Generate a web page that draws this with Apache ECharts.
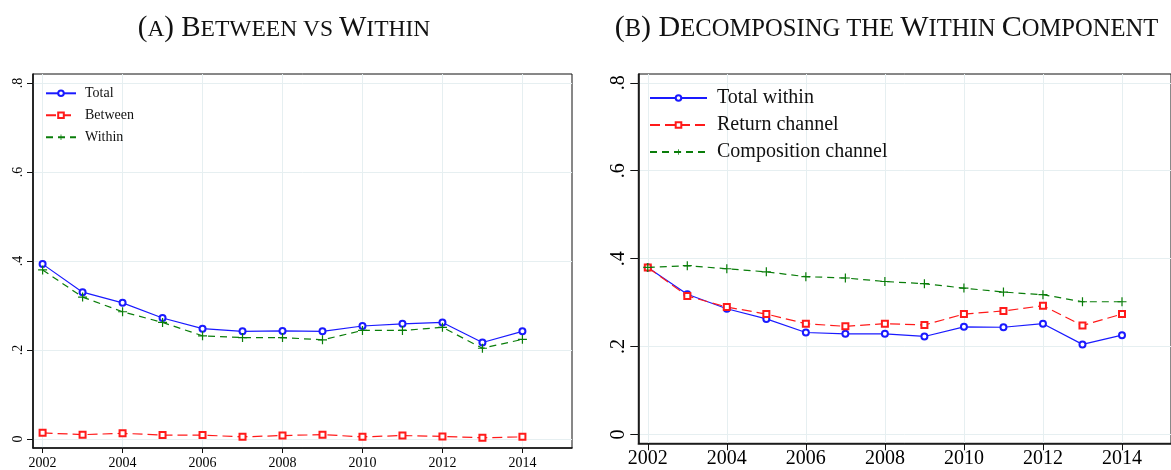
<!DOCTYPE html>
<html>
<head>
<meta charset="utf-8">
<script src="https://cdn.jsdelivr.net/npm/echarts@6/dist/echarts.min.js"></script>
<style>
  html, body { margin: 0; padding: 0; background: #fff; }
  #chart { width: 1171px; height: 470px; }
</style>
</head>
<body>
<div id="chart"></div>
<script>
// Years on the horizontal axis
const years = [2002, 2003, 2004, 2005, 2006, 2007, 2008, 2009, 2010, 2011, 2012, 2013, 2014];

// Panel (a): between vs within
const total   = [0.393, 0.330, 0.306, 0.272, 0.248, 0.242, 0.243, 0.242, 0.254, 0.259, 0.262, 0.217, 0.242];
const between = [0.014, 0.010, 0.013, 0.009, 0.009, 0.005, 0.008, 0.010, 0.005, 0.008, 0.006, 0.003, 0.005];
const within  = [0.380, 0.319, 0.286, 0.262, 0.232, 0.228, 0.228, 0.223, 0.244, 0.244, 0.251, 0.204, 0.224];

// Panel (b): decomposing the within component
const totalWithin   = [0.380, 0.319, 0.286, 0.263, 0.232, 0.229, 0.229, 0.223, 0.245, 0.244, 0.252, 0.205, 0.226];
const returnChannel = [0.380, 0.315, 0.290, 0.274, 0.252, 0.246, 0.252, 0.249, 0.274, 0.281, 0.293, 0.248, 0.274];
const composition   = [0.380, 0.384, 0.377, 0.370, 0.359, 0.356, 0.348, 0.343, 0.333, 0.324, 0.318, 0.302, 0.302];

// Tick labels
const xTicks = [2002, 2004, 2006, 2008, 2010, 2012, 2014];
const yTicks = [0, 0.2, 0.4, 0.6, 0.8];

const SERIF = '"Liberation Serif", "Times New Roman", serif';
const BLUE = '#1a1aff', RED = '#ff1a1a', GREEN = '#0a7d0a';
const GRID_COLOR = '#e6eff1';
const PLUS = 'path://M-0.8,-6H0.8V-0.8H6V0.8H0.8V6H-0.8V0.8H-6V-0.8H-0.8Z';

const pairs = arr => years.map((y, i) => [y, arr[i]]);
const yFmt = v => (v === 0 ? '0' : String(+v.toFixed(1)).replace('0.', '.'));

function xAxisFor(gridIndex, fontSize, margin, tickLen) {
  return {
    type: 'value', gridIndex, min: 2001.76, max: 2015.24,
    axisLine: { show: true, onZero: false, lineStyle: { color: '#111', width: 1.6 } },
    axisTick: { show: true, customValues: xTicks, length: tickLen, lineStyle: { color: '#111', width: 1 } },
    axisLabel: { customValues: xTicks, formatter: v => String(v), fontFamily: SERIF,
                 fontSize, color: '#000', margin },
    splitLine: { show: true, lineStyle: { color: GRID_COLOR, width: 1 } }
  };
}
function yAxisFor(gridIndex, fontSize, margin, tickLen) {
  return {
    type: 'value', gridIndex, min: -0.02, max: 0.82,
    axisLine: { show: true, onZero: false, lineStyle: { color: '#111', width: 1.6 } },
    axisTick: { show: true, customValues: yTicks, length: tickLen, lineStyle: { color: '#111', width: 1 } },
    axisLabel: { customValues: yTicks, formatter: yFmt, rotate: 90, fontFamily: SERIF,
                 fontSize, color: '#000', margin },
    splitLine: { show: true, lineStyle: { color: GRID_COLOR, width: 1 } }
  };
}

function lineSeries(name, data, idx, color, symbol, size, dash) {
  const plus = symbol === PLUS;
  return {
    name, type: 'line', xAxisIndex: idx, yAxisIndex: idx,
    data: pairs(data), symbol, symbolSize: size, showSymbol: true,
    lineStyle: { color, width: 1.2, type: dash },
    itemStyle: { color, borderColor: color, borderWidth: plus ? 0 : 1.2 },
    emphasis: { disabled: true }
  };
}

// Small-caps title pieces: full capitals and reduced capitals
function titleStyles(big, small) {
  return {
    b: { fontFamily: SERIF, fontSize: big, fontWeight: 'normal', lineHeight: 36, verticalAlign: 'bottom', color: '#111' },
    s: { fontFamily: SERIF, fontSize: small, fontWeight: 'normal', lineHeight: 36, verticalAlign: 'bottom', color: '#111',
         padding: [0, 0, (big - small) * 0.25, 0] }
  };
}

const option = {
  animation: false,
  backgroundColor: '#fff',
  title: [
    { text: '{b|(}{s|A}{b|) B}{s|ETWEEN VS }{b|W}{s|ITHIN}', left: 284, top: 7, textAlign: 'center', padding: 0,
      textStyle: { fontWeight: 'normal', rich: titleStyles(29, 23.5) } },
    { text: '{b|(}{s|B}{b|) D}{s|ECOMPOSING THE }{b|W}{s|ITHIN }{b|C}{s|OMPONENT}', left: 886.5, top: 7, textAlign: 'center', padding: 0,
      textStyle: { fontWeight: 'normal', rich: titleStyles(30, 24.6) } }
  ],
  grid: [
    { left: 33, top: 74, width: 539, height: 375, show: true, borderColor: '#111', borderWidth: 1, backgroundColor: '#fff' },
    { left: 638.3, top: 74, width: 533.5, height: 369.3, show: true, borderColor: '#111', borderWidth: 1, backgroundColor: '#fff' }
  ],
  xAxis: [xAxisFor(0, 14, 8, 5), xAxisFor(1, 20, 5, 7)],
  yAxis: [yAxisFor(0, 14, 8, 6), yAxisFor(1, 20, 10, 8)],
  legend: [
    { orient: 'vertical', left: 45, top: 86.3, padding: 0, itemWidth: 30, itemHeight: 7, itemGap: 8,
      data: ['Total', 'Between', 'Within'],
      textStyle: { fontFamily: SERIF, fontSize: 14, lineHeight: 14, color: '#111', padding: [0, 0, 0, 4] } },
    { orient: 'vertical', left: 649, top: 88, padding: 0, itemWidth: 57, itemHeight: 7, itemGap: 7,
      data: ['Total within', 'Return channel', 'Composition channel'],
      textStyle: { fontFamily: SERIF, fontSize: 20, lineHeight: 20, color: '#111', padding: [0, 0, 0, 5] } }
  ],
  series: [
    lineSeries('Total', total, 0, BLUE, 'emptyCircle', 6, 'solid'),
    lineSeries('Between', between, 0, RED, 'emptyRect', 6, [10, 5]),
    lineSeries('Within', within, 0, GREEN, PLUS, 9, [7, 5]),
    lineSeries('Total within', totalWithin, 1, BLUE, 'emptyCircle', 6, 'solid'),
    lineSeries('Return channel', returnChannel, 1, RED, 'emptyRect', 6, [10, 5]),
    lineSeries('Composition channel', composition, 1, GREEN, PLUS, 9, [7, 5])
  ]
};

const chart = echarts.init(document.getElementById('chart'), null, { renderer: 'canvas' });
chart.setOption(option);
</script>
</body>
</html>
